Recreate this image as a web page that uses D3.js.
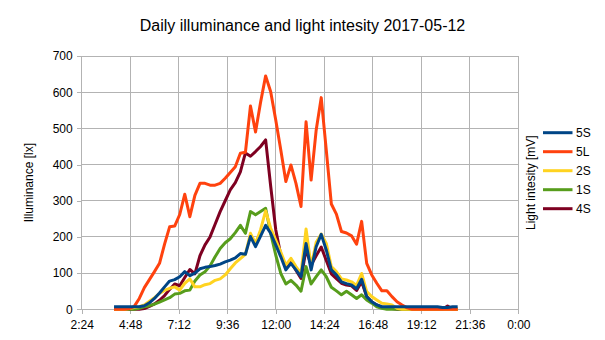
<!DOCTYPE html>
<html>
<head>
<meta charset="utf-8">
<script src="https://cdn.jsdelivr.net/npm/d3@7"></script>
<style>
  html, body { margin: 0; padding: 0; background: #fff; }
  svg { display: block; font-family: "Liberation Sans", Arial, sans-serif; }
</style>
</head>
<body>
<svg id="chart" width="605" height="340"></svg>
<script>
// ---- data ----
const times = ["4:00","4:15","4:30","4:45","5:00","5:15","5:30","5:45","6:00","6:15","6:30","6:45",
  "7:00","7:15","7:30","7:45","8:00","8:15","8:30","8:45","9:00","9:15","9:30","9:45",
  "10:00","10:15","10:30","10:45","11:00","11:15","11:30","11:45","12:00","12:15","12:30","12:45",
  "13:00","13:15","13:30","13:45","14:00","14:15","14:30","14:45","15:00","15:15","15:30","15:45",
  "16:00","16:15","16:30","16:45","17:00","17:15","17:30","17:45","18:00","18:15","18:30","18:45",
  "19:00","19:15","19:30","19:45","20:00","20:15","20:30","20:45","21:00"];

const s5S = [7,7,7,7,7,7,10,18,30,45,62,78,
  82,90,104,93,100,112,116,118,121,125,131,136,
  142,154,152,201,173,202,232,210,178,145,109,127,
  109,90,182,109,173,207,164,109,95,76,71,67,
  57,83,35,21,12,7,7,7,7,7,7,7,
  7,7,7,7,7,5,5,7,7];
const s5L = [0,0,0,2,8,30,60,82,104,127,180,228,
  230,262,318,256,315,348,348,343,343,348,362,378,
  394,431,434,562,490,572,645,601,523,440,353,399,
  348,284,518,357,495,585,440,291,263,215,211,203,
  180,243,127,95,72,51,51,35,21,12,4,0,
  0,0,0,0,0,0,0,0,0];
const s2S = [0,0,0,2,5,7,12,22,32,44,52,58,
  62,53,72,84,62,62,68,71,80,84,95,112,
  128,140,152,210,182,220,272,224,191,158,122,141,
  118,99,222,118,185,208,182,118,104,84,81,76,
  66,99,49,35,26,17,15,12,3,0,0,0,
  0,0,0,0,0,0,0,0,0];
const s1S = [0,0,0,0,0,3,7,10,14,20,26,32,
  42,44,51,53,78,95,104,120,145,168,184,195,
  212,232,210,270,261,270,279,210,150,99,70,80,
  67,50,118,70,90,109,90,61,51,40,50,40,
  30,40,26,17,7,3,0,0,0,0,0,0,
  0,0,0,0,0,0,0,0,0];
const s4S = [0,0,0,0,0,0,2,8,15,25,38,55,
  70,65,88,110,98,148,178,200,235,270,300,330,
  350,380,432,423,436,450,468,340,220,150,118,132,
  108,85,165,122,148,172,135,98,85,72,67,65,
  52,76,35,20,12,6,3,2,0,0,0,0,
  0,0,0,0,0,0,9,0,0];

const seriesNames = ["5S","5L","2S","1S","4S"];
const seriesColors = ["#004586","#ff420e","#ffd320","#579d1c","#7e0021"];
const seriesData = [s5S, s5L, s2S, s1S, s4S];

const yTicks = [0,100,200,300,400,500,600,700];
const xTickHours = [2.4,4.8,7.2,9.6,12,14.4,16.8,19.2,21.6,24];
const xTickLabels = ["2:24","4:48","7:12","9:36","12:00","14:24","16:48","19:12","21:36","0:00"];

const title = "Daily illuminance and light intesity 2017-05-12";
const yTitle = "Illuminance [lx]";
const y2Title = "Light intesity [mV]";

// ---- layout ----
const svg = d3.select("#chart");
const L = 81.7, R = 518.3, T = 56, B = 309.3;
const toHours = t => { const [h, m] = t.split(":").map(Number); return h + m / 60; };

const x = d3.scaleLinear().domain([2.4, 24]).range([L, R]);
const y = d3.scaleLinear().domain([0, 700]).range([B, T]);

const grid = "#b3b3b3";

// horizontal gridlines
svg.append("g").selectAll("line").data(yTicks).join("line")
  .attr("x1", L).attr("x2", R)
  .attr("y1", d => y(d)).attr("y2", d => y(d))
  .attr("stroke", grid).attr("stroke-width", 1).attr("shape-rendering", "crispEdges");
// vertical gridlines
svg.append("g").selectAll("line").data(xTickHours).join("line")
  .attr("x1", d => x(d)).attr("x2", d => x(d))
  .attr("y1", T).attr("y2", B)
  .attr("stroke", grid).attr("stroke-width", 1).attr("shape-rendering", "crispEdges");

// y axis
const yAxis = d3.axisLeft(y).tickValues(yTicks).tickSize(5).tickPadding(4);
const gy = svg.append("g").attr("transform", `translate(${L},0)`).call(yAxis);
gy.select(".domain").remove();
gy.selectAll(".tick line").attr("stroke", grid).attr("shape-rendering", "crispEdges");
gy.selectAll(".tick text").attr("fill", "#000").style("font-size", "12px")
  .style("font-family", '"Liberation Sans", Arial, sans-serif');

// x axis
const xAxis = d3.axisBottom(x).tickValues(xTickHours)
  .tickFormat((d, i) => xTickLabels[i]).tickSize(5).tickPadding(6);
const gx = svg.append("g").attr("transform", `translate(0,${B})`).call(xAxis);
gx.select(".domain").remove();
gx.selectAll(".tick line").attr("stroke", grid).attr("shape-rendering", "crispEdges");
gx.selectAll(".tick text").attr("fill", "#000").style("font-size", "12px")
  .style("font-family", '"Liberation Sans", Arial, sans-serif');

// lines
const line = d3.line()
  .x((d, i) => x(toHours(times[i])))
  .y(d => y(d));
const drawOrder = [4, 3, 2, 1, 0];
svg.append("g").selectAll("path").data(drawOrder).join("path")
  .attr("d", k => line(seriesData[k]))
  .attr("fill", "none")
  .attr("stroke", k => seriesColors[k])
  .attr("stroke-width", 3)
  .attr("stroke-linejoin", "round");

// title
svg.append("text").attr("x", 302.5).attr("y", 31).attr("text-anchor", "middle")
  .style("font-size", "16px").attr("fill", "#000").text(title);

// y titles
svg.append("text").attr("transform", `translate(33,${(T + B) / 2}) rotate(-90)`)
  .attr("text-anchor", "middle").style("font-size", "12px").attr("fill", "#000").text(yTitle);
svg.append("text").attr("transform", `translate(535,${(T + B) / 2}) rotate(-90)`)
  .attr("text-anchor", "middle").style("font-size", "12px").attr("fill", "#000").text(y2Title);

// legend
const leg = svg.append("g").selectAll("g").data(seriesNames).join("g")
  .attr("transform", (d, i) => `translate(543,${132.7 + i * 19})`);
leg.append("line").attr("x1", 0).attr("x2", 29.5).attr("y1", 0).attr("y2", 0)
  .attr("stroke", (d, i) => seriesColors[i]).attr("stroke-width", 3);
leg.append("text").attr("x", 33).attr("y", 4.5).style("font-size", "12px")
  .attr("fill", "#000").text(d => d);
</script>
</body>
</html>
